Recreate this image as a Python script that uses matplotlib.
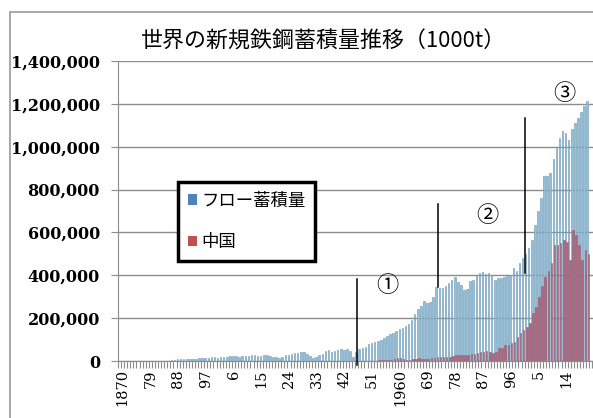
import numpy as np
import matplotlib
matplotlib.use("Agg")
import matplotlib.pyplot as plt
from matplotlib.patches import Patch, Rectangle
from matplotlib.ticker import FuncFormatter, MultipleLocator

plt.rcParams['font.family'] = ['Noto Sans CJK JP', 'DejaVu Sans']

# data (1000t)
years = np.arange(1870, 2022)
flow_k = [1, 1, 1, 1, 1, 1, 1, 1, 1, 1, 2, 2, 2, 2, 2, 2,
          6, 7, 8, 9, 10, 9, 10, 9, 10, 12,
          13, 13, 15, 17, 17, 16, 19, 19, 18, 22,
          24, 24, 18, 22, 25, 23, 28, 30, 22, 25,
          30, 26, 23, 18, 20, 12, 20, 28, 30, 34,
          37, 36, 40, 43, 33, 25, 15, 21, 27, 35,
          45, 50, 42, 48, 52, 54, 50, 54, 48, 20,
          40, 55, 62, 65, 78, 85, 90, 95, 100, 108,
          115, 124, 130, 138, 148, 155, 165, 175, 190, 220,
          245, 255, 280, 270, 275, 298, 344, 340, 340, 349,
          363, 377, 391, 370, 355, 330, 335, 375, 378, 400,
          410, 414, 405,
          409, 395, 377, 386, 386, 392, 395, 400, 432, 420,
          456, 479, 500, 526, 563, 633, 702, 763, 865, 865,
          879, 944, 995, 1042, 1074, 1065, 1032, 1084, 1112, 1135,
          1160, 1190, 1214]

china_start = 1949
china_k = [1, 1, 2, 2, 3, 3, 4, 5, 6, 10,
           14, 15, 8, 6, 7, 8, 10, 12, 9, 8,
           11, 14, 16, 18, 20, 19, 20, 18, 22, 26,
           28, 30, 28, 30, 32, 35, 38, 40, 42, 45,
           40, 37, 42, 60, 60, 74, 74, 84, 88, 112,
           130, 144, 160, 177, 223, 251, 298, 350, 391, 420,
           456, 540, 540, 549, 563, 555, 470, 610, 590, 540,
           470, 520, 500]

tick_years = [1870, 1879, 1888, 1897, 1906, 1915, 1924, 1933, 1942, 1951,
              1960, 1969, 1978, 1987, 1996, 2005, 2014]
tick_labels = ['1870', '79', '88', '97', '6', '15', '24', '33', '42', '51',
               '1960', '69', '78', '87', '96', '5', '14']

flow = np.array(flow_k) * 1000
china = np.array(china_k) * 1000
china_years = np.arange(china_start, china_start + len(china))

fig = plt.figure(figsize=(5.93, 4.18), dpi=100)
ax = fig.add_axes([118 / 593, 1 - 361 / 418, 1 - 118 / 593, 300 / 418])

ax.bar(years - 0.18, flow, width=0.5, color='#95c0d6', edgecolor='#6a98b8',
       linewidth=0.4, zorder=3)
ax.bar(china_years + 0.2, china, width=0.5, color='#b0667c', edgecolor='#9a5a70',
       linewidth=0.4, zorder=4)

ax.set_xlim(1868.5, 2022.7)
ax.set_ylim(0, 1400000)
ax.yaxis.set_major_locator(MultipleLocator(200000))
ax.yaxis.set_major_formatter(FuncFormatter(lambda v, p: f'{int(v):,}'))
ax.grid(axis='y', color='#8c8c8c', linewidth=1, zorder=0)
ax.set_axisbelow(True)

for s in ['top', 'right']:
    ax.spines[s].set_visible(False)
ax.spines['left'].set_color('#8c8c8c')
ax.spines['bottom'].set_color('#8c8c8c')

ax.set_xticks(tick_years)
ax.set_xticklabels(tick_labels, rotation=90, family='DejaVu Serif', fontsize=10.5)
ax.set_xticks(np.arange(1868.5, 2022.6, 1), minor=True)
ax.tick_params(axis='x', which='major', length=0, pad=6)
ax.tick_params(axis='x', which='minor', length=5, color='#8c8c8c', width=0.8)
ax.tick_params(axis='y', length=5, color='#8c8c8c', pad=8)
for lab in ax.get_yticklabels():
    lab.set_family('DejaVu Serif')
    lab.set_fontweight('bold')
    lab.set_fontsize(11.5)

# annotation lines and period markers
ax.plot([1946, 1946], [-20000, 385000], color='black', lw=1.1, zorder=5, clip_on=False)
ax.plot([1972.3, 1972.3], [344000, 735000], color='black', lw=1.1, zorder=5)
ax.plot([2000.5, 2000.5], [409000, 1135000], color='black', lw=1.1, zorder=5)
ax.text(1956, 353000, '①', fontsize=16, ha='center', va='center', zorder=6)
ax.text(1988.5, 679000, '②', fontsize=16, ha='center', va='center', zorder=6)
ax.text(2013.5, 1246000, '③', fontsize=16, ha='center', va='center', zorder=6)

handles = [Patch(facecolor='#4f81bd', edgecolor='none'),
           Patch(facecolor='#c0504d', edgecolor='none')]
leg = ax.legend(handles, ['フロー蓄積量', '中国'], loc='upper left',
                bbox_to_anchor=(178 / 593, 1 - 182 / 418),
                bbox_transform=fig.transFigure, fontsize=12.5, fancybox=False,
                handlelength=0.55, handleheight=0.55, handletextpad=0.25,
                labelspacing=1.35, borderpad=0.55, borderaxespad=0,
                framealpha=1)
leg.get_frame().set_edgecolor('black')
leg.get_frame().set_linewidth(2.5)
leg.set_zorder(10)

fig.text(324 / 593, 1 - 42 / 418, '世界の新規鉄鋼蓄積量推移（1000t）',
         ha='center', va='center', fontsize=15.8)

# outer chart border
fig.add_artist(Rectangle((10 / 593, -0.05), 1.2, 1 - 12 / 418 + 0.05,
                         transform=fig.transFigure, fill=False,
                         edgecolor='#9a9a9a', linewidth=1.2))

fig.savefig('out.png', dpi=100)
